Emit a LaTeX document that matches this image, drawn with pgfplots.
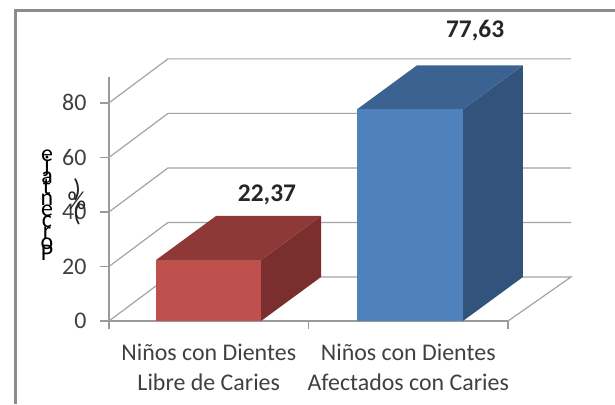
\documentclass[border=0pt]{standalone}
\usepackage{pgfplots}
\pgfplotsset{compat=1.18}
\usepackage{fontspec}
\setmainfont{Carlito}
\definecolor{gridc}{HTML}{A3A3A3}
\definecolor{axc}{HTML}{9A9A9A}
\definecolor{framec}{HTML}{8C8C8C}
\definecolor{redF}{HTML}{C0504D}
\definecolor{redT}{HTML}{8E3937}
\definecolor{redS}{HTML}{7A2E2D}
\definecolor{bluF}{HTML}{4F81BD}
\definecolor{bluT}{HTML}{3C6291}
\definecolor{bluS}{HTML}{32547C}
\lineskiplimit=-100pt\relax
\begin{document}
\begin{tikzpicture}[x=1bp,y=1bp]
\path[use as bounding box] (0,0) rectangle (615,404);
\draw[framec,line width=3bp] (15.5,0) -- (15.5,393) -- (615,393);
\begin{axis}[
  at={(109bp,83bp)}, anchor=south west,
  scale only axis, width=399bp, height=244bp,
  xmin=0, xmax=2, ymin=0, ymax=89.5,
  clip=false,
  axis x line=bottom, axis y line=left,
  axis line style={axc,line width=1.4bp,-},
  xtick={0.5,1.5},
  xticklabels={{Niños con Dientes\\Libre de Caries},{Niños con Dientes\\Afectados con Caries}},
  minor xtick={0,1,2},
  ytick={0,20,40,60,80},
  tick align=outside,
  major tick length=9bp,
  minor tick length=8bp,
  major x tick style={draw=none},
  minor x tick style={draw=axc,line width=1.4bp},
  ytick style={axc,line width=1.4bp},
  y tick label style={font=\fontsize{24}{24}\selectfont,text=black!75,xshift=-10bp},
  x tick label style={font=\fontsize{24}{30}\selectfont,text=black!75,align=center,yshift=-11bp},
  /pgf/number format/assume math mode=true,
]
% side wall and back wall gridlines
\addplot[gridc,line width=1.2bp] coordinates {(0,0) (0.2957,16.15) (2.316,16.15) (2,0)};
\addplot[gridc,line width=1.2bp] coordinates {(0,20) (0.2957,36.15) (2.316,36.15)};
\addplot[gridc,line width=1.2bp] coordinates {(0,40) (0.2957,56.15) (2.316,56.15)};
\addplot[gridc,line width=1.2bp] coordinates {(0,60) (0.2957,76.15) (2.316,76.15)};
\addplot[gridc,line width=1.2bp] coordinates {(0,80) (0.2957,96.15) (2.316,96.15)};
% red bar
\addplot[fill=redS,draw=none] coordinates {(0.762,0) (1.063,16.15) (1.063,38.52) (0.762,22.37)} -- cycle;
\addplot[fill=redT,draw=none] coordinates {(0.2356,22.37) (0.5364,38.52) (1.063,38.52) (0.762,22.37)} -- cycle;
\addplot[fill=redF,draw=none] coordinates {(0.2356,0) (0.2356,22.37) (0.762,22.37) (0.762,0)} -- cycle;
% blue bar
\addplot[fill=bluS,draw=none] coordinates {(1.774,0) (2.075,16.15) (2.075,93.78) (1.774,77.63)} -- cycle;
\addplot[fill=bluT,draw=none] coordinates {(1.243,77.63) (1.5438,93.78) (2.075,93.78) (1.774,77.63)} -- cycle;
\addplot[fill=bluF,draw=none] coordinates {(1.243,0) (1.243,77.63) (1.774,77.63) (1.774,0)} -- cycle;
% labels
\node[font=\fontsize{25.5}{25.5}\selectfont\bfseries,text=black!85] at (axis cs:0.792,46.3) {22,37};
\node[font=\fontsize{25.5}{25.5}\selectfont\bfseries,text=black!85] at (axis cs:1.835,106.4) {77,63};
\end{axis}
% axis title as in the source: stacked, overlapping upright letters
\node[font=\fontsize{24}{11}\selectfont,align=center,inner sep=0pt,text=black] at (47,198.5)
  {e\\j\\a\\t\\n\\e\\c\\r\\o\\P};
\node[font=\fontsize{26}{12}\selectfont,align=center,inner sep=0pt,text=black!85] at (77,202)
  {)\\\%\\(};
\end{tikzpicture}
\end{document}
